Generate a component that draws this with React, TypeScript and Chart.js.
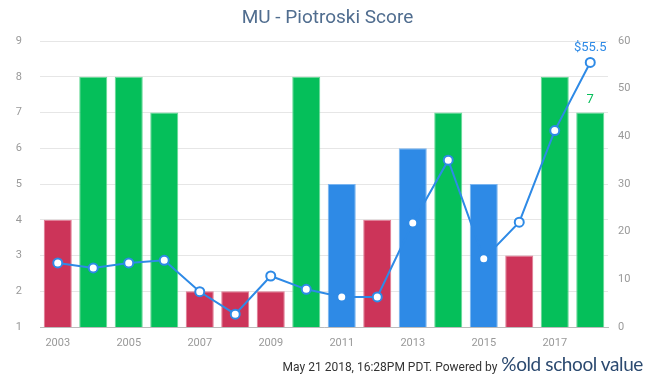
import React, { useEffect, useRef } from "react";
import { Chart, registerables } from "chart.js";

Chart.register(...registerables);

const years = ["2003","2004","2005","2006","2007","2008","2009","2010","2011","2012","2013","2014","2015","2016","2017","2018"];
const scores = [4, 8, 8, 7, 2, 2, 2, 8, 5, 4, 6, 7, 5, 3, 8, 7];
const prices = [13.45, 12.4, 13.45, 14.0, 7.4, 2.7, 10.7, 7.9, 6.3, 6.3, 21.8, 35.0, 14.3, 22.0, 41.2, 55.5];
const leftTicks = [1, 2, 3, 4, 5, 6, 7, 8, 9];
const rightTicks = [0, 10, 20, 30, 40, 50, 60];

const RED = "#cc3459";
const GREEN = "#05bf5a";
const BLUE = "#2e8ae6";
const colorFor = (s: number) => (s <= 4 ? RED : s >= 7 ? GREEN : BLUE);
const borderFor = (s: number) => (s <= 4 ? "#e07a94" : s >= 7 ? "#66d996" : "#7ab5f0");

const labelPlugin = {
  id: "lastLabels",
  afterDatasetsDraw(chart: any) {
    const ctx = chart.ctx;
    const barMeta = chart.getDatasetMeta(1);
    const lineMeta = chart.getDatasetMeta(0);
    const n = years.length - 1;
    const bar = barMeta.data[n];
    const pt = lineMeta.data[n];
    ctx.save();
    ctx.font = "13px Roboto";
    ctx.textAlign = "center";
    ctx.textBaseline = "bottom";
    ctx.fillStyle = GREEN;
    ctx.fillText(String(scores[n]), bar.x, bar.y - 6);
    ctx.fillStyle = BLUE;
    ctx.fillText("$" + prices[n], pt.x, pt.y - 8);
    ctx.restore();
  },
};

export default function App() {
  const ref = useRef<HTMLCanvasElement>(null);
  useEffect(() => {
    document.body.style.margin = "0";
    const chart = new Chart(ref.current!, {
      type: "bar",
      data: {
        labels: years,
        datasets: [
          {
            type: "line",
            label: "Price",
            data: prices,
            yAxisID: "y1",
            borderColor: BLUE,
            borderWidth: 2,
            backgroundColor: "#ffffff",
            pointBackgroundColor: "#ffffff",
            pointBorderColor: BLUE,
            pointBorderWidth: 2,
            pointRadius: 4.5,
            tension: 0,
            order: 0,
          } as any,
          {
            type: "bar",
            label: "Score",
            data: scores.map((s) => [1, s]),
            yAxisID: "y",
            backgroundColor: scores.map(colorFor),
            borderColor: scores.map(borderFor),
            borderWidth: 1,
            borderSkipped: "bottom",
            barPercentage: 0.79,
            categoryPercentage: 1,
            order: 1,
          } as any,
        ],
      },
      options: {
        animation: false,
        responsive: false,
        maintainAspectRatio: false,
        layout: { padding: { top: 41, left: 0, right: 0, bottom: 0 } },
        plugins: {
          legend: { display: false },
          tooltip: { enabled: false },
          title: { display: false },
        },
        scales: {
          x: {
            grid: { display: false, drawTicks: false },
            border: { color: "#bbbbbb" },
            ticks: {
              color: "#999999",
              font: { family: "Roboto", size: 11 },
              padding: 10,
              maxRotation: 0,
              autoSkip: true,
              callback: (v: any, i: number) => (i % 2 === 0 ? years[i] : null),
            },
            afterFit: (s: any) => { s.height = 51; },
          },
          y: {
            position: "left",
            min: 1,
            max: 9,
            afterBuildTicks: (s: any) => { s.ticks = leftTicks.map((v) => ({ value: v })); },
            grid: { color: "#e6e6e6", drawTicks: false },
            border: { display: false },
            ticks: { color: "#999999", font: { family: "Roboto", size: 11 }, padding: 18 },
            afterFit: (s: any) => { s.width = 40; },
          },
          y1: {
            position: "right",
            min: 0,
            max: 60,
            afterBuildTicks: (s: any) => { s.ticks = rightTicks.map((v) => ({ value: v })); },
            grid: { display: false, drawTicks: false },
            border: { display: false },
            ticks: { color: "#999999", font: { family: "Roboto", size: 11 }, padding: 10 },
            afterFit: (s: any) => { s.width = 47; },
          },
        },
      },
      plugins: [labelPlugin],
    });
    return () => chart.destroy();
  }, []);

  return (
    <div style={{ position: "relative", width: 655, height: 378, background: "#fff", overflow: "hidden" }}>
      <canvas ref={ref} width={655} height={378} style={{ position: "absolute", left: 0, top: 0 }} />
      <div
        style={{
          position: "absolute",
          top: 5,
          left: 0,
          width: 655,
          textAlign: "center",
          fontFamily: "Roboto",
          fontSize: 19,
          color: "#506d8f",
        }}
      >
        MU - Piotroski Score
      </div>
      <div
        style={{
          position: "absolute",
          right: 12,
          top: 352,
          display: "flex",
          alignItems: "baseline",
          whiteSpace: "nowrap",
        }}
      >
        <span style={{ fontFamily: "Roboto", fontSize: 12, color: "#333", marginRight: 4 }}>
          May 21 2018, 16:28PM PDT. Powered by
        </span>
        <span style={{ fontFamily: "Lato", fontWeight: 400, fontSize: 19, color: "#2c4a70", letterSpacing: -0.4 }}>
          %old school value
        </span>
      </div>
    </div>
  );
}
